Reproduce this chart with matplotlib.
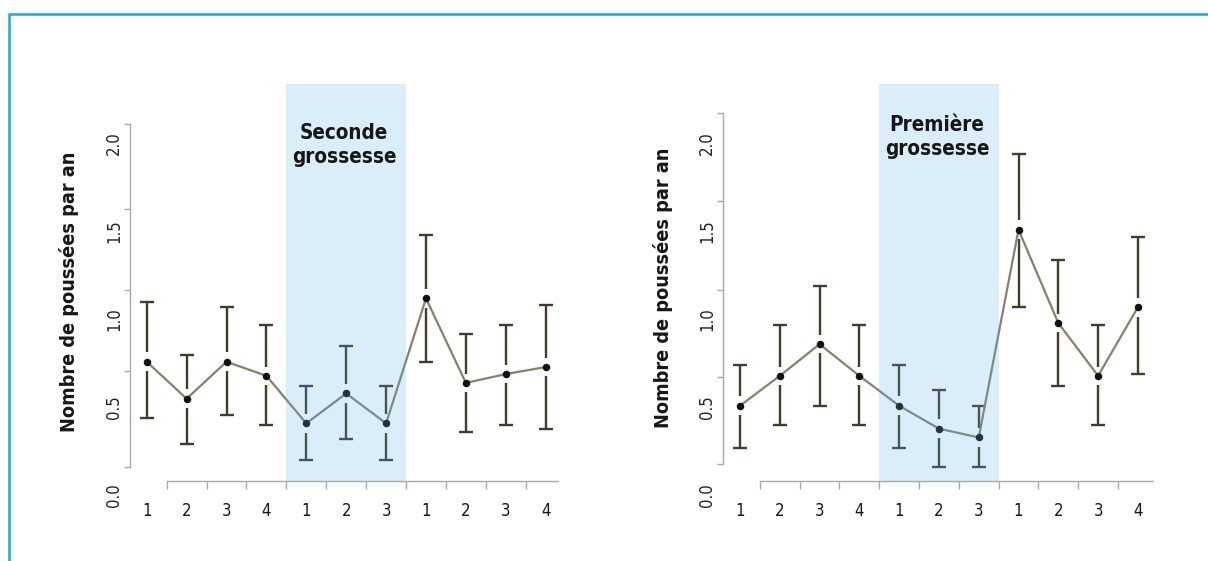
import numpy as np
import matplotlib
matplotlib.use("Agg")
import matplotlib.pyplot as plt
from matplotlib import font_manager as fm
from matplotlib.lines import Line2D

# ---------------- data ----------------
x_labels = ["1", "2", "3", "4", "1", "2", "3", "1", "2", "3", "4"]
group_sizes = [4, 3, 4]          # avant / pendant / après la grossesse

left_title = "Seconde\ngrossesse"
left_mean = [0.76, 0.55, 0.76, 0.68, 0.41, 0.58, 0.41, 1.12, 0.64, 0.69, 0.73]
left_hi   = [1.10, 0.80, 1.07, 0.97, 0.62, 0.85, 0.62, 1.48, 0.92, 0.97, 1.08]
left_lo   = [0.44, 0.29, 0.46, 0.40, 0.20, 0.32, 0.20, 0.76, 0.36, 0.40, 0.38]

right_title = "Première\ngrossesse"
right_mean = [0.51, 0.68, 0.86, 0.68, 0.51, 0.38, 0.33, 1.51, 0.98, 0.68, 1.07]
right_hi   = [0.74, 0.97, 1.19, 0.97, 0.74, 0.60, 0.51, 1.94, 1.34, 0.97, 1.47]
right_lo   = [0.27, 0.40, 0.51, 0.40, 0.27, 0.16, 0.16, 1.07, 0.62, 0.40, 0.69]

y_ticks = [0.0, 0.5, 1.0, 1.5, 2.0]
y_tick_labels = ["0.0", "0.5", "1.0", "1.5", "2.0"]
y_label = "Nombre de poussées par an"

# ---------------- style ----------------
W, H = 1208, 561
avail = {f.name for f in fm.fontManager.ttflist}
if "Liberation Sans Narrow" in avail:
    plt.rcParams["font.family"] = ["Liberation Sans Narrow", "DejaVu Sans"]
    FS_TICK, FS_BOLD, FS_YLAB = 14, 17, 17
else:
    plt.rcParams["font.family"] = ["DejaVu Sans"]
    plt.rcParams["font.stretch"] = "condensed"
    FS_TICK, FS_BOLD, FS_YLAB = 12, 14.8, 14.2

GRAY = "#a9a9a9"
ERR = "#433b2c"
LINE = "#8a7f6b"
DOT = "#111111"
TXT = "#161616"
SHADE = "#5ab4e6"
SHADE_ALPHA = 0.22
FRAME = "#17aec8"

YMIN, YMAX = -0.139, 2.338
XAXIS_Y = 0.082
GAP = 0.053

fig = plt.figure(figsize=(W / 100, H / 100), dpi=100)
fig.patch.set_facecolor("white")

def px_box(x0, x1, y_top, y_bot):
    return [x0 / W, 1 - y_bot / H, (x1 - x0) / W, (y_bot - y_top) / H]

def draw_panel(ax, mean, lo, hi, title, title_y, xright, ymarks):
    mean = np.asarray(mean); lo = np.asarray(lo); hi = np.asarray(hi)
    x = np.arange(len(mean))
    ax.set_xlim(-0.42, xright)
    ax.set_ylim(YMIN, YMAX)
    ax.patch.set_alpha(0)

    ax.vlines(x, mean + GAP, hi, color=ERR, lw=1.7, zorder=2, capstyle="butt")
    ax.vlines(x, lo, mean - GAP, color=ERR, lw=1.7, zorder=2, capstyle="butt")
    ax.plot(x, hi, ls="none", marker="_", ms=9.4, mew=1.7, color=ERR, zorder=2)
    ax.plot(x, lo, ls="none", marker="_", ms=9.4, mew=1.7, color=ERR, zorder=2)
    ax.plot(x, mean, color=LINE, lw=1.6, zorder=3)
    ax.plot(x, mean, ls="none", marker="o", ms=4.4, color=DOT, zorder=4)

    s0 = group_sizes[0] - 0.5
    s1 = group_sizes[0] + group_sizes[1] - 0.5
    ax.fill_between([s0, s1], XAXIS_Y, YMAX, color=SHADE, alpha=SHADE_ALPHA,
                    lw=0, zorder=5)
    ax.text((s0 + s1) / 2 - 0.05, title_y, title, ha="center", va="baseline",
            fontsize=FS_BOLD, fontweight="bold", color=TXT, zorder=6,
            linespacing=1.25)

    for s in ["top", "right"]:
        ax.spines[s].set_visible(False)
    for s in ["left", "bottom"]:
        ax.spines[s].set_color(GRAY)
        ax.spines[s].set_linewidth(1.0)
    ax.spines["bottom"].set_position(("data", XAXIS_Y))
    ax.spines["bottom"].set_bounds(0.5, xright)
    ax.spines["left"].set_bounds(ymarks[0], ymarks[-1])

    ax.set_xticks(x)
    ax.set_xticklabels(x_labels)
    ax.set_xticks(np.arange(0.5, len(x) - 1, 1.0), minor=True)
    ax.tick_params(axis="x", which="major", length=0, pad=15, labelsize=FS_TICK,
                   labelcolor=TXT)
    ax.tick_params(axis="x", which="minor", length=6, width=1.0, color=GRAY)

    ax.set_yticks(y_ticks)
    ax.set_yticklabels(y_tick_labels, rotation=90, va="center")
    ax.set_yticks(ymarks, minor=True)
    ax.tick_params(axis="y", which="major", length=0, pad=5, labelsize=FS_TICK,
                   labelcolor="#222222")
    ax.tick_params(axis="y", which="minor", length=4, width=1.0, color=GRAY)

# axis tick-mark positions as drawn in the artwork
left_marks = [0.164, 0.707, 1.168, 1.626, 2.111]
right_marks = [0.179, 0.675, 1.168, 1.673, 2.172]

axL = fig.add_axes(px_box(130, 558, 84, 520))
draw_panel(axL, left_mean, left_lo, left_hi, left_title, 1.888, 10.31, left_marks)
axR = fig.add_axes(px_box(723.3, 1153, 84, 520))
draw_panel(axR, right_mean, right_lo, right_hi, right_title, 1.935, 10.38, right_marks)

fig.text(69 / W, 1 - 292 / H, y_label, rotation=90, ha="center", va="center",
         fontsize=FS_YLAB, fontweight="bold", color=TXT)
fig.text(663 / W, 1 - 288 / H, y_label, rotation=90, ha="center", va="center",
         fontsize=FS_YLAB, fontweight="bold", color=TXT)

fig.add_artist(Line2D([9 / W, 9 / W, 1.0], [0.0, 1 - 14 / H, 1 - 14 / H],
                      color=FRAME, lw=1.8, transform=fig.transFigure,
                      solid_joinstyle="miter"))

fig.savefig("out.png", dpi=100)
